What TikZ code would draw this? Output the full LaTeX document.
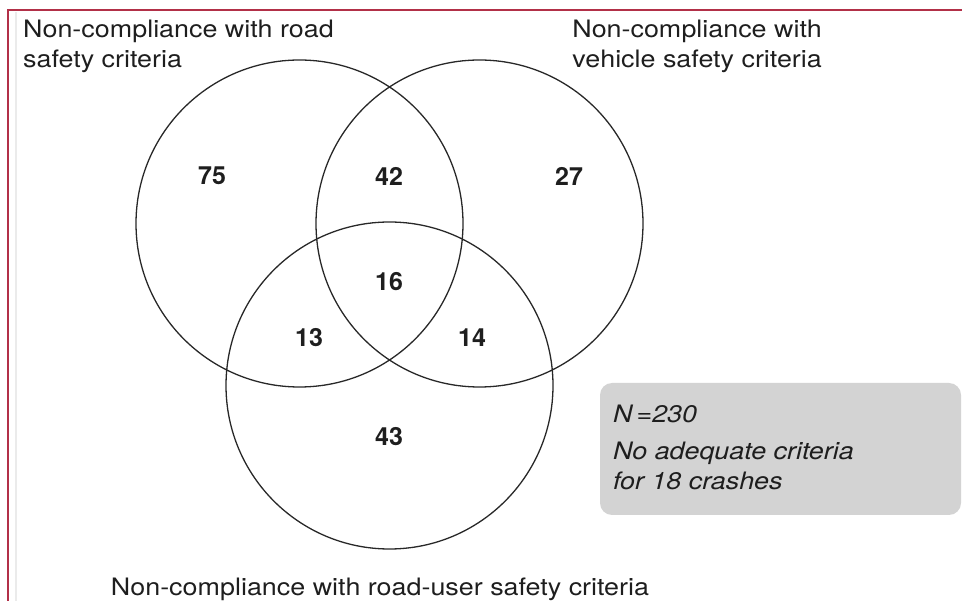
\documentclass[tikz,border=0pt]{standalone}
\usepackage{fontspec}
\setmainfont{TeX Gyre Heros}
\newfontfamily\labelfont{TeX Gyre Heros}[FakeStretch=1.12]
\usepackage{tikz}
\usetikzlibrary{positioning}
\definecolor{framered}{RGB}{178,48,72}
\definecolor{ringgray}{RGB}{40,40,40}
\definecolor{notegray}{RGB}{211,211,211}
\definecolor{textgray}{RGB}{30,30,30}
\tikzset{
  ring/.style={circle, draw=ringgray, line width=1.3pt, minimum size=327pt, inner sep=0pt},
  count/.style={font=\fontsize{25}{30}\selectfont\bfseries, text=textgray},
  setlabel/.style={font=\labelfont\fontsize{24}{30}\selectfont, text=textgray, inner sep=0pt},
  notetext/.style={setlabel, font=\labelfont\itshape\fontsize{24}{30}\selectfont}
}

\begin{document}
\begin{tikzpicture}[x=1pt, y=-1pt]
    \useasboundingbox (0,0) rectangle (962,601);

    % Frame
    \draw[framered, line width=2pt] (8,601) -- (8,10) -- (962,10);
    \draw[black!8, line width=1.5pt] (16,12) -- (16,601);

    % Sets
    \node[ring] (road) at (299.5,223.5) {};
    \node[ring] (vehicle) at (479.5,223.5) {};
    \node[ring] (user) at (389.5,385.5) {};

    % Set labels
    \node[setlabel, anchor=north west, align=left] (roadlbl) at (23,20) {Non-compliance with road\\safety criteria};
    \node[setlabel, anchor=north east, align=right] (vehiclelbl) at (822,20) {Non-compliance with\\vehicle safety criteria};
    \node[setlabel, anchor=base] (userlbl) at (380,595) {Non-compliance with road-user safety criteria};

    % Counts
    \foreach \x/\y/\val in {212/176/75, 389/176/42, 569/176/27, 389/282/16, 309/338/13, 472/338/14, 389/437/43} {
        \node[count] (c\val) at (\x,\y) {\val};
    }

    % Note box
    \fill[notegray, rounded corners=12pt] (600,383) rectangle (961,515);
    \node[notetext, anchor=base west] (total) at (613,423) {N\,=230};
    \node[notetext, anchor=base west, align=left] (nocrit) at (613,490) {No adequate criteria\\for 18 crashes};
\end{tikzpicture}
\end{document}
